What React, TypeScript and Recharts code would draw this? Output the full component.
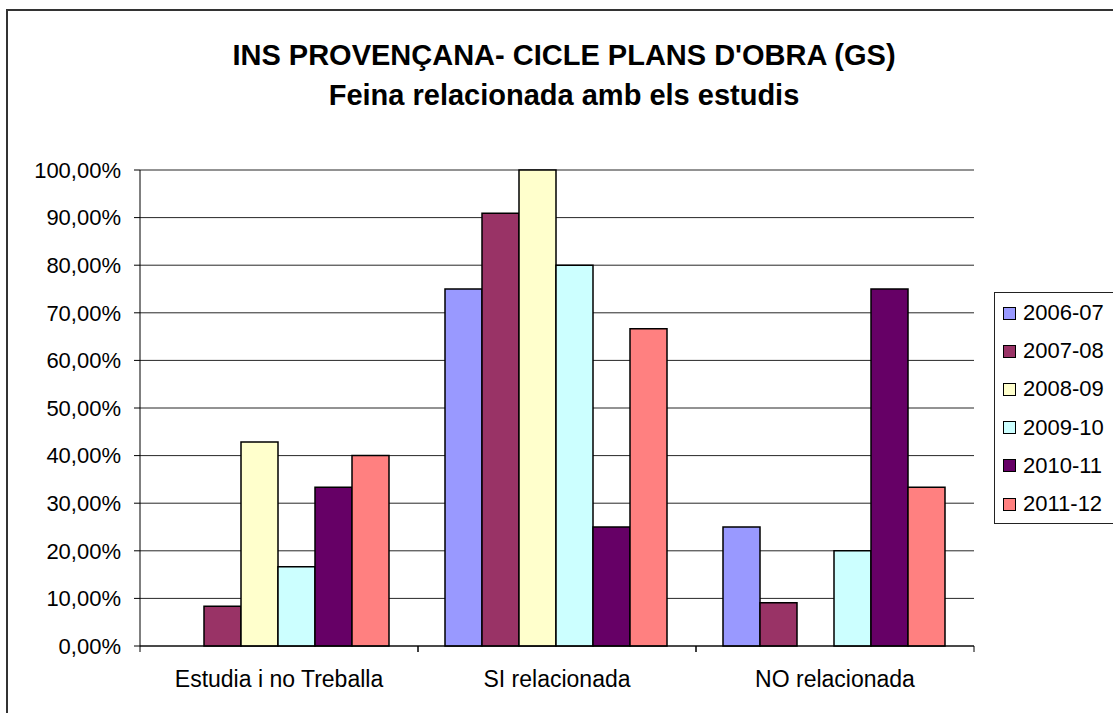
import { Bar, BarChart, CartesianGrid, XAxis, YAxis } from "recharts";

const categories = ["Estudia i no Treballa", "SI relacionada", "NO relacionada"];
const seasons = ["2006-07", "2007-08", "2008-09", "2009-10", "2010-11", "2011-12"];
const seasonColors = ["#9999FF", "#993366", "#FFFFCC", "#CCFFFF", "#660066", "#FF8080"];

// one list per season, in category order
const s200607 = [0, 0.75, 0.25];
const s200708 = [0.0833, 0.9091, 0.0909];
const s200809 = [0.4286, 1.0, 0];
const s200910 = [0.1667, 0.8, 0.2];
const s201011 = [0.3333, 0.25, 0.75];
const s201112 = [0.4, 0.6667, 0.3333];

const yTicks = [0, 0.1, 0.2, 0.3, 0.4, 0.5, 0.6, 0.7, 0.8, 0.9, 1];

const seriesValues = [s200607, s200708, s200809, s200910, s201011, s201112];

const data = categories.map((name, i) => {
  const row: Record<string, string | number> = { name };
  seasons.forEach((s, j) => {
    row[s] = seriesValues[j][i];
  });
  return row;
});

const FONT = '"Liberation Sans", Arial, sans-serif';
const X_TICK_SIZE = 6;
const X_TICK_MARGIN = 19;

const pct = (v: number) => (v * 100).toFixed(2).replace(".", ",") + "%";

// label at the band centre, tick marks on the band edges (Excel style)
function CategoryTick(props: any) {
  const { x, y, payload } = props;
  const half = payload?.offset ?? 0;
  const axisY = y - X_TICK_MARGIN - X_TICK_SIZE;
  return (
    <g>
      <line x1={x - half} x2={x - half} y1={axisY} y2={axisY + X_TICK_SIZE} stroke="#000" />
      <line x1={x + half} x2={x + half} y1={axisY} y2={axisY + X_TICK_SIZE} stroke="#000" />
      <text
        x={x}
        y={y}
        dy="0.71em"
        textAnchor="middle"
        fontSize={23}
        fill="#000"
        fontFamily={FONT}
      >
        {payload.value}
      </text>
    </g>
  );
}

export default function App() {
  return (
    <div
      style={{
        position: "relative",
        width: 1113,
        height: 713,
        overflow: "hidden",
        background: "#fff",
        fontFamily: FONT,
      }}
    >
      <style>{`body{margin:0}`}</style>
      {/* chart frame, runs off the right and bottom edges */}
      <div
        style={{
          position: "absolute",
          left: 6,
          top: 9,
          width: 1300,
          height: 900,
          border: "2px solid #333",
        }}
      />
      <div
        style={{
          position: "absolute",
          left: 0,
          top: 35,
          width: 1128,
          textAlign: "center",
          fontWeight: "bold",
          fontSize: 29,
          lineHeight: "40px",
          color: "#000",
        }}
      >
        <div>INS PROVENÇANA- CICLE PLANS D'OBRA (GS)</div>
        <div>Feina relacionada amb els estudis</div>
      </div>

      <div style={{ position: "absolute", left: 0, top: 0 }}>
        <BarChart
          width={1113}
          height={713}
          data={data}
          margin={{ top: 170, right: 139, bottom: 27, left: 0 }}
          barCategoryGap={27}
          barGap={0}
        >
          <CartesianGrid vertical={false} stroke="#000" strokeOpacity={0.85} />
          <XAxis
            dataKey="name"
            tickLine={false}
            axisLine={{ stroke: "#000" }}
            tickSize={X_TICK_SIZE}
            tickMargin={X_TICK_MARGIN}
            height={40}
            interval={0}
            tick={CategoryTick}
          />
          <XAxis
            xAxisId="top"
            orientation="top"
            dataKey="name"
            tick={false}
            tickLine={false}
            axisLine={{ stroke: "#888" }}
            height={0}
          />
          <YAxis
            domain={[0, 1]}
            ticks={yTicks}
            tickFormatter={pct}
            width={140}
            tickSize={6}
            tickMargin={13}
            axisLine={{ stroke: "#000" }}
            tickLine={{ stroke: "#000" }}
            tick={{ fontSize: 22, fill: "#000", fontFamily: FONT }}
          />
          <YAxis
            yAxisId="right"
            orientation="right"
            domain={[0, 1]}
            tick={false}
            tickLine={false}
            axisLine={{ stroke: "#888" }}
            width={0}
          />
          {seasons.map((s, j) => (
            <Bar
              key={s}
              dataKey={s}
              fill={seasonColors[j]}
              stroke="#000"
              strokeWidth={1.5}
              isAnimationActive={false}
            />
          ))}
        </BarChart>
      </div>

      <div
        style={{
          position: "absolute",
          left: 994,
          top: 292,
          width: 200,
          height: 229,
          border: "1px solid #222",
          paddingTop: 1,
          boxSizing: "content-box",
        }}
      >
        {seasons.map((s, j) => (
          <div
            key={s}
            style={{
              height: 38.2,
              display: "flex",
              alignItems: "center",
              paddingLeft: 8,
              fontSize: 22,
              color: "#000",
            }}
          >
            <span
              style={{
                width: 11,
                height: 11,
                background: seasonColors[j],
                border: "1px solid #000",
                marginRight: 7,
                display: "inline-block",
              }}
            />
            {s}
          </div>
        ))}
      </div>
    </div>
  );
}
